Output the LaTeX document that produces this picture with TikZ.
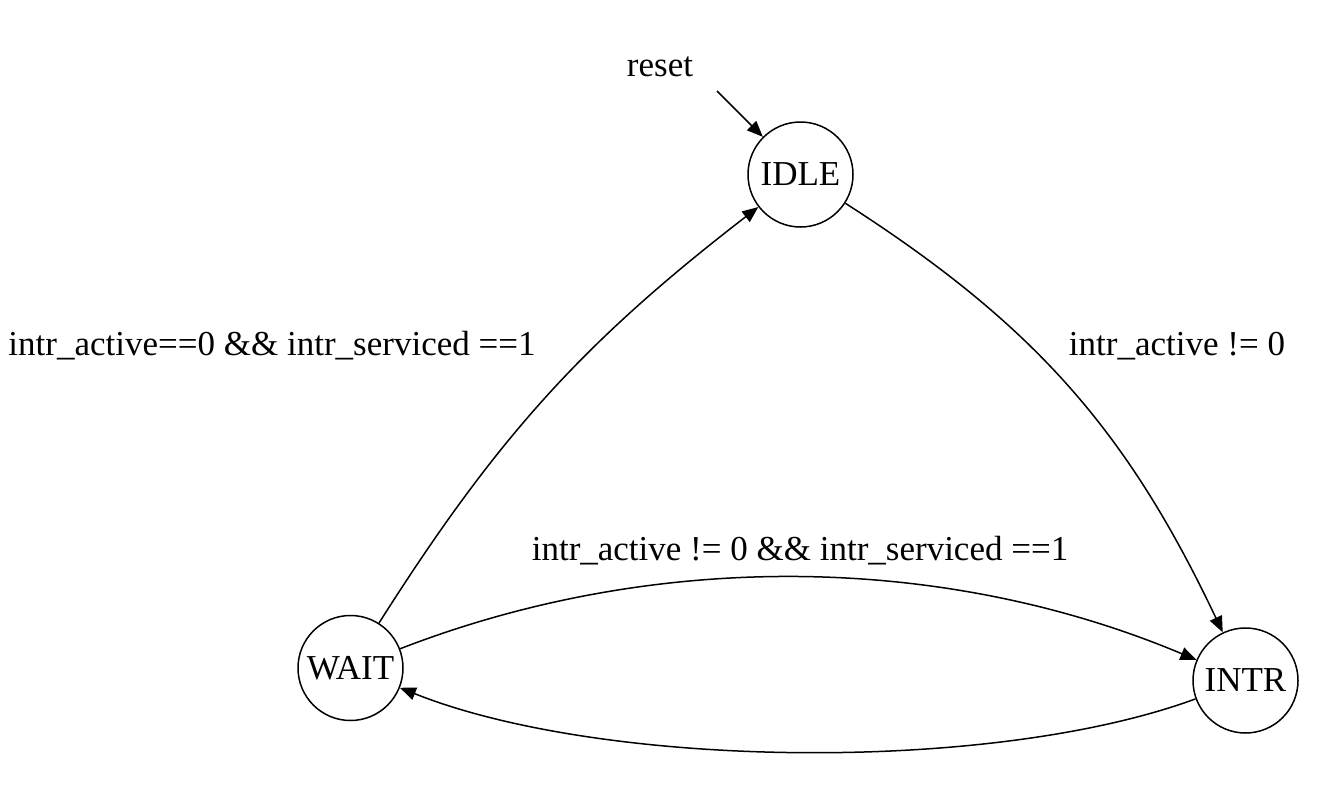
\documentclass[tikz,border=0pt]{standalone}
\usepackage{fontspec}
\setmainfont{Liberation Serif}
\usetikzlibrary{arrows.meta}
\begin{document}
\begin{tikzpicture}[x=1pt,y=-1pt,
  state/.style={draw,circle,line width=1.5pt,minimum size=105pt,inner sep=0pt,font=\fontsize{35}{40}\selectfont},
  lbl/.style={font=\fontsize{35}{40}\selectfont,inner sep=0pt},
  edge/.style={line width=1.5pt,-{Triangle[length=16pt,width=13pt]}}]
\useasboundingbox (0,0) rectangle (1336,803);
\node[state] (idle) at (800.5,174.5) {IDLE};
\node[state] (wait) at (350.5,668) {WAIT};
\node[state] (intr) at (1245.5,680.5) {INTR};
\coordinate (rs) at (717,91);
\node[lbl] (reset) at (660,67) {reset};
\node[lbl] (l1) at (1177,346) {intr\_active != 0};
\node[lbl] (l2) at (272,346) {intr\_active==0 \&\& intr\_serviced ==1};
\node[lbl] (l3) at (800,551) {intr\_active != 0 \&\& intr\_serviced ==1};
\draw[edge] (rs) -- (idle);
\draw[edge] (idle) to[bend left=16] (intr);
\draw[edge] (wait) to[bend left=10] (idle);
\draw[edge] (wait) to[bend left=22,looseness=0.88] (intr);
\draw[edge] (intr) to[bend left=21,looseness=0.7] (wait);
\end{tikzpicture}
\end{document}
